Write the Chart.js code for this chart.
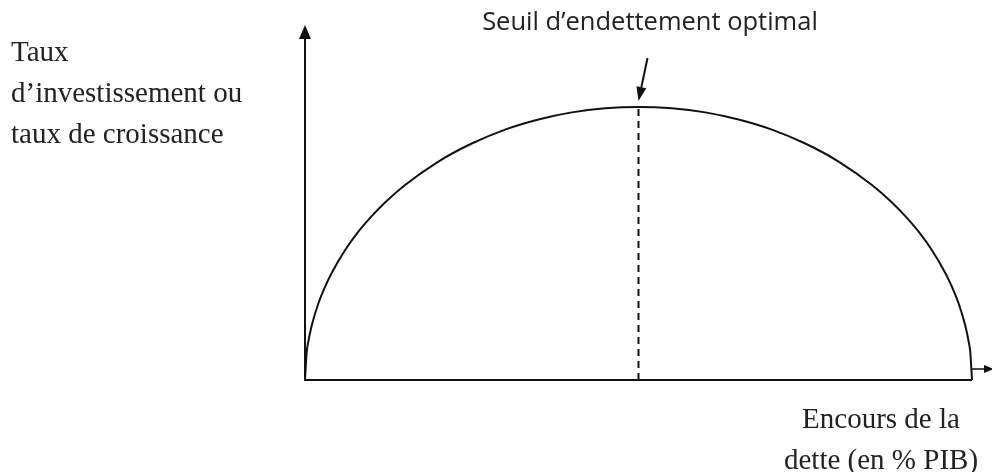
<!DOCTYPE html>
<html>
<head>
<meta charset="utf-8">
<script src="https://cdn.jsdelivr.net/npm/chart.js@4.4.0/dist/chart.umd.min.js"></script>
<style>
  html, body { margin: 0; padding: 0; background: #fff; }
  #wrap { position: relative; width: 992px; height: 472px; overflow: hidden; }
  #chart { position: absolute; left: 0; top: 0; }
  .lbl { position: absolute; color: #222; white-space: nowrap; }
  .serif { font-family: "Liberation Serif", "Times New Roman", serif; font-size: 29px; line-height: 41px; }
  #yTitle { left: 11px; top: 31px; }
  #xTitle { left: 761px; top: 398px; width: 240px; text-align: center; }
  #topNote { left: 450px; top: 3px; width: 400px; text-align: center; font-family: "Open Sans", sans-serif; font-size: 25.5px; color: #222; }
</style>
</head>
<body>
<div id="wrap">
  <canvas id="chart" width="992" height="472"></canvas>
  <div id="yTitle" class="lbl serif">Taux<br>d’investissement ou<br>taux de croissance</div>
  <div id="xTitle" class="lbl serif">Encours de la<br>dette (en % PIB)</div>
  <div id="topNote" class="lbl">Seuil d’endettement optimal</div>
</div>
<script>
(function () {
    // debt level (share of the axis) and investment / growth rate
    const debt = [0, 0.25, 0.5, 1, 2, 3, 4, 6, 8, 10, 12, 15, 20, 25, 30, 35, 40, 45, 50, 55, 60, 65, 70, 75, 80, 85, 88, 90, 92, 94, 96, 97, 98, 99, 99.5, 99.75, 100];
    const growth = [0, 10, 14.1, 19.9, 28, 34.1, 39.2, 47.5, 54.3, 60, 65, 71.4, 80, 86.6, 91.7, 95.4, 98, 99.5, 100, 99.5, 98, 95.4, 91.7, 86.6, 80, 71.4, 65, 60, 54.3, 47.5, 39.2, 34.1, 28, 19.9, 14.1, 10, 0];
    const optimum = { x: 50, y: 100 };

    const el = document.getElementById('chart');
    const ink = '#111';

    const axesPlugin = {
        id: 'axesArrows',
        afterDatasetsDraw(chart) {
            const { ctx, scales: { x, y } } = chart;
            const x0 = x.getPixelForValue(0);
            const y0 = y.getPixelForValue(0);
            const yTop = y.getPixelForValue(y.max);
            const xEnd = x.getPixelForValue(100);
            const xMax = x.getPixelForValue(x.max);
            ctx.save();
            ctx.strokeStyle = ink;
            ctx.fillStyle = ink;
            ctx.lineWidth = 2;
            // y axis
            ctx.beginPath();
            ctx.moveTo(x0, y0 + 1);
            ctx.lineTo(x0, yTop + 10);
            ctx.stroke();
            ctx.beginPath();
            ctx.moveTo(x0, yTop);
            ctx.lineTo(x0 - 6, yTop + 14);
            ctx.lineTo(x0 + 6, yTop + 14);
            ctx.closePath();
            ctx.fill();
            // x axis
            ctx.beginPath();
            ctx.moveTo(x0 - 1, y0);
            ctx.lineTo(xEnd, y0);
            ctx.stroke();
            // x arrow stub
            const ys = y0 - 11;
            ctx.lineWidth = 1.5;
            ctx.beginPath();
            ctx.moveTo(xEnd, ys);
            ctx.lineTo(xMax - 2, ys);
            ctx.stroke();
            ctx.beginPath();
            ctx.moveTo(xMax + 2, ys);
            ctx.lineTo(xMax - 8, ys - 4);
            ctx.lineTo(xMax - 8, ys + 4);
            ctx.closePath();
            ctx.fill();
            // pointer to the optimum
            const px = x.getPixelForValue(optimum.x);
            const py = y.getPixelForValue(optimum.y);
            const sx = px + 9, sy = py - 49;
            const ex = px, ey = py - 6;
            const ang = Math.atan2(ey - sy, ex - sx);
            ctx.lineWidth = 2;
            ctx.beginPath();
            ctx.moveTo(sx, sy);
            ctx.lineTo(ex - 10 * Math.cos(ang), ey - 10 * Math.sin(ang));
            ctx.stroke();
            ctx.beginPath();
            ctx.moveTo(ex, ey);
            ctx.lineTo(ex - 14 * Math.cos(ang) + 5 * Math.sin(ang), ey - 14 * Math.sin(ang) - 5 * Math.cos(ang));
            ctx.lineTo(ex - 14 * Math.cos(ang) - 5 * Math.sin(ang), ey - 14 * Math.sin(ang) + 5 * Math.cos(ang));
            ctx.closePath();
            ctx.fill();
            ctx.restore();
        }
    };

    new Chart(el, {
        type: 'line',
        data: {
            datasets: [{
                label: 'Courbe',
                data: debt.map((d, i) => ({ x: d, y: growth[i] })),
                borderColor: ink,
                borderWidth: 2,
                pointRadius: 0,
                fill: false,
                cubicInterpolationMode: 'monotone',
                clip: false
            }, {
                label: 'Seuil',
                data: [{ x: optimum.x, y: 0 }, { x: optimum.x, y: optimum.y }],
                borderColor: ink,
                borderWidth: 2,
                borderDash: [7, 5],
                pointRadius: 0,
                fill: false,
                clip: false
            }]
        },
        options: {
            responsive: false,
            animation: false,
            layout: { padding: { left: 305, right: 0, top: 25, bottom: 92 } },
            plugins: {
                legend: { display: false },
                tooltip: { enabled: false }
            },
            scales: {
                x: { type: 'linear', min: 0, max: 103, display: false },
                y: { type: 'linear', min: 0, max: 130, display: false }
            }
        },
        plugins: [axesPlugin]
    });
})();
</script>
</body>
</html>
